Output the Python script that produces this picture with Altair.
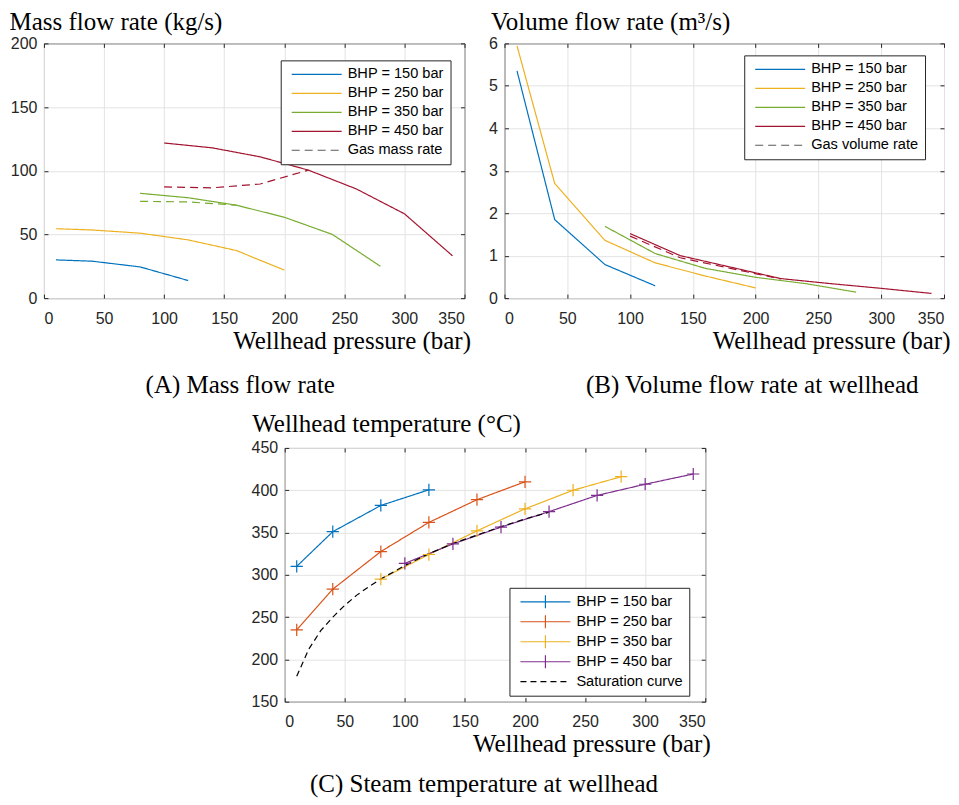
import altair as alt
import pandas as pd

# ---------------- data ----------------
pressure_ticks = [0, 50, 100, 150, 200, 250, 300, 350]
bhp_labels = ["BHP = 150 bar", "BHP = 250 bar", "BHP = 350 bar", "BHP = 450 bar"]

# (a) mass flow rate (kg/s)
mass_p150 = [10, 40, 80, 120]
mass_150 = [30.0, 29.0, 24.5, 13.8]
mass_p250 = [10, 40, 80, 120, 160, 200]
mass_250 = [54.5, 53.5, 51.0, 45.7, 37.4, 22.0]
mass_p350 = [80, 120, 160, 200, 240, 280]
mass_350 = [82.3, 78.8, 73.0, 63.5, 50.0, 25.0]
mass_p450 = [100, 140, 180, 220, 260, 300, 340]
mass_450 = [121.8, 118.0, 110.9, 100.5, 85.7, 66.2, 33.2]
gas_mass_p350 = [80, 120, 160]
gas_mass_350 = [76.0, 75.5, 73.0]
gas_mass_p450 = [100, 140, 180, 220]
gas_mass_450 = [87.3, 86.6, 89.6, 100.5]

# (b) volume flow rate (m3/s)
vol_p150 = [10, 40, 80, 120]
vol_150 = [5.35, 1.85, 0.79, 0.29]
vol_p250 = [10, 40, 80, 120, 160, 200]
vol_250 = [5.94, 2.70, 1.36, 0.83, 0.52, 0.24]
vol_p350 = [80, 120, 160, 200, 240, 280]
vol_350 = [1.69, 1.05, 0.70, 0.49, 0.34, 0.14]
vol_p450 = [100, 140, 180, 220, 260, 300, 340]
vol_450 = [1.52, 1.00, 0.73, 0.46, 0.34, 0.23, 0.11]
gas_vol_p450 = [100, 140, 180, 220]
gas_vol_450 = [1.46, 0.95, 0.70, 0.45]

# (c) wellhead temperature (degC)
temp_p150 = [10, 40, 80, 120]
temp_150 = [310, 351, 382, 400.5]
temp_p250 = [10, 40, 80, 120, 160, 200]
temp_250 = [235, 283, 327.5, 362, 388.8, 410]
temp_p350 = [80, 120, 160, 200, 240, 280]
temp_350 = [295, 324, 352, 378, 400, 416]
temp_p450 = [100, 140, 180, 220, 260, 300, 340]
temp_450 = [313.5, 336.5, 356.4, 374.7, 393.9, 407.1, 419.2]
sat_p = [10, 20, 30, 40, 50, 60, 70, 80, 100, 120, 140, 160, 180, 200, 220]
sat_t = [180, 212, 234, 250, 264, 276, 286, 295, 311, 325, 337, 347, 357, 366, 374]

# ---------------- style ----------------
SERIF = "Liberation Serif"
SANS = "Liberation Sans"
INK = "#262626"
GRID = "#e3e3e3"
C_AB = ["#0072BD", "#EDB120", "#77AC30", "#A2142F"]
C_C = ["#0072BD", "#D95319", "#EDB120", "#7E2F8E"]
GAS_GRAY = "#5a5a5a"
DASH = [8, 5]


def frame(triples, colors=None):
    rows = []
    for k, (label, ps, vs) in enumerate(triples):
        for p, v in zip(ps, vs):
            row = {"p": p, "v": v, "s": label}
            if colors is not None:
                row["hex"] = colors[k]
            rows.append(row)
    return pd.DataFrame(rows)


def panel(main_df, dom, colors, dashes, extra, ydom, yvals, ytitle, ytx, yty,
          width, height, xtx, leg, caption, cap_dx, cap_off, sym_type="stroke"):
    xs = alt.Scale(domain=[0, 350], nice=False, zero=False)
    ys = alt.Scale(domain=ydom, nice=False, zero=False)
    legend = alt.Legend(
        title=None, orient="none", legendX=leg[0], legendY=leg[1],
        direction="vertical", fillColor="white", strokeColor=INK,
        padding=6, symbolOffset=4, clipHeight=16, rowPadding=leg[2],
        labelFont=SANS, labelFontSize=14.6, labelColor="black", labelOffset=5,
        symbolSize=2500, symbolStrokeWidth=1.2, symbolType=sym_type,
    )
    main = alt.Chart(main_df).mark_line(strokeWidth=1.2).encode(
        x=alt.X("p:Q", scale=xs, axis=alt.Axis(
            values=pressure_ticks, grid=True, ticks=False, tickSize=0, domain=False,
            labelPadding=12, title="Wellhead pressure (bar)", titleAlign="right",
            titleBaseline="alphabetic", titleX=xtx, titleY=50, titleAngle=0)),
        y=alt.Y("v:Q", scale=ys, axis=alt.Axis(
            values=yvals, grid=True, ticks=False, tickSize=0, domain=False,
            labelPadding=7, title=ytitle, titleAngle=0, titleAlign="left",
            titleBaseline="alphabetic", titleX=ytx, titleY=yty)),
        color=alt.Color("s:N", scale=alt.Scale(domain=dom, range=colors), legend=legend),
        strokeDash=alt.StrokeDash("s:N", scale=alt.Scale(domain=dom, range=dashes), legend=legend),
    )
    tick_axis = dict(labels=False, domain=False, grid=False, ticks=True, tickSize=4,
                     offset=-4, tickColor=INK, tickWidth=1, title=None)
    ticks_tr = alt.Chart(main_df).mark_point(opacity=0).encode(
        x=alt.X("p:Q", scale=xs, axis=alt.Axis(orient="top", values=pressure_ticks, **tick_axis)),
        y=alt.Y("v:Q", scale=ys, axis=alt.Axis(orient="right", values=yvals, **tick_axis)),
    )
    ticks_bl = alt.Chart(main_df).mark_point(opacity=0).encode(
        x=alt.X("p:Q", scale=xs, axis=alt.Axis(orient="bottom", values=pressure_ticks, **tick_axis)),
        y=alt.Y("v:Q", scale=ys, axis=alt.Axis(orient="left", values=yvals, **tick_axis)),
    )
    extras = []
    for e in extra:
        extras.append(e.encode(
            x=alt.X("p:Q", scale=xs, axis=None),
            y=alt.Y("v:Q", scale=ys, axis=None),
        ))
    return alt.layer(main, *extras, ticks_tr, ticks_bl).resolve_axis(
        x="independent", y="independent"
    ).properties(
        width=width, height=height,
        title=alt.TitleParams(caption, orient="bottom", anchor="middle", offset=cap_off, dx=cap_dx),
    )


# ---- panel A ----
dom_a = bhp_labels + ["Gas mass rate"]
df_a = frame([(bhp_labels[0], mass_p150, mass_150), (bhp_labels[1], mass_p250, mass_250),
              (bhp_labels[2], mass_p350, mass_350), (bhp_labels[3], mass_p450, mass_450)])
gas_a350 = alt.Chart(frame([("g350", gas_mass_p350, gas_mass_350)])).mark_line(
    strokeWidth=1.2, color=C_AB[2], strokeDash=DASH)
gas_a450 = alt.Chart(frame([("g450", gas_mass_p450, gas_mass_450)])).mark_line(
    strokeWidth=1.2, color=C_AB[3], strokeDash=DASH)
chart_a = panel(df_a, dom_a, C_AB + [GAS_GRAY], [[1, 0]] * 4 + [DASH],
                [gas_a350, gas_a450], [0, 200], [0, 50, 100, 150, 200],
                "Mass flow rate (kg/s)", -35, -14, 421, 255, 427, (237, 17, 3),
                "(A) Mass flow rate", -14, 20)

# ---- panel B ----
dom_b = bhp_labels + ["Gas volume rate"]
df_b = frame([(bhp_labels[0], vol_p150, vol_150), (bhp_labels[1], vol_p250, vol_250),
              (bhp_labels[2], vol_p350, vol_350), (bhp_labels[3], vol_p450, vol_450)])
gas_b450 = alt.Chart(frame([("g450", gas_vol_p450, gas_vol_450)])).mark_line(
    strokeWidth=1.2, color=C_AB[3], strokeDash=DASH)
chart_b = panel(df_b, dom_b, C_AB + [GAS_GRAY], [[1, 0]] * 4 + [DASH],
                [gas_b450], [0, 6], [0, 1, 2, 3, 4, 5, 6],
                "Volume flow rate (m³/s)", -14, -14, 440, 255, 446, (240, 12, 3),
                "(B) Volume flow rate at wellhead", 28, 20)

# ---- panel C ----
dom_c = bhp_labels + ["Saturation curve"]
c_triples = [(bhp_labels[0], temp_p150, temp_150), (bhp_labels[1], temp_p250, temp_250),
             (bhp_labels[2], temp_p350, temp_350), (bhp_labels[3], temp_p450, temp_450)]
df_c = frame(c_triples + [("Saturation curve", sat_p, sat_t)])
pts_c = alt.Chart(frame(c_triples, C_C)).mark_point(
    shape="M-1,0L1,0M0,-1L0,1", filled=False, size=150, strokeWidth=1.2, opacity=1
).encode(color=alt.Color("hex:N", scale=None))
sym_c = {"expr": "datum.value == 'Saturation curve' ? 'M-1,0L1,0' : 'M-1,0L1,0M0,-0.26L0,0.26'"}
chart_c = panel(df_c, dom_c, C_C + ["black"], [[1, 0]] * 4 + [[6, 4]],
                [pts_c], [150, 450], [150, 200, 250, 300, 350, 400, 450],
                "Wellhead temperature (°C)", -33, -16, 421, 254, 426, (225, 140, 4),
                "(C) Steam temperature at wellhead", -11, 15, sym_type=sym_c)

spacer = alt.Chart(pd.DataFrame({"z": [0]})).mark_point(opacity=0).encode(
    x=alt.value(0), y=alt.value(0)
).properties(width=205, height=10, view=alt.ViewBackground(stroke="transparent"))

row1 = alt.hconcat(chart_a, chart_b, spacing=16).resolve_scale(
    color="independent", strokeDash="independent")
row2 = alt.hconcat(spacer, chart_c, spacing=0).resolve_scale(
    color="independent", strokeDash="independent")

chart = alt.vconcat(row1, row2, spacing=12).resolve_scale(
    color="independent", strokeDash="independent"
).properties(
    padding={"left": 0, "top": 0, "right": 0, "bottom": 0}
).configure_view(
    stroke=INK, strokeWidth=1
).configure_axis(
    labelFont=SANS, labelFontSize=16, labelColor=INK,
    titleFont=SERIF, titleFontSize=25, titleFontWeight="normal", titleColor="black",
    gridColor=GRID, gridWidth=1,
).configure_title(
    font=SERIF, fontSize=25, fontWeight="normal", color="black"
)

chart.save("out.html", embed_options={"renderer": "svg", "actions": False})
